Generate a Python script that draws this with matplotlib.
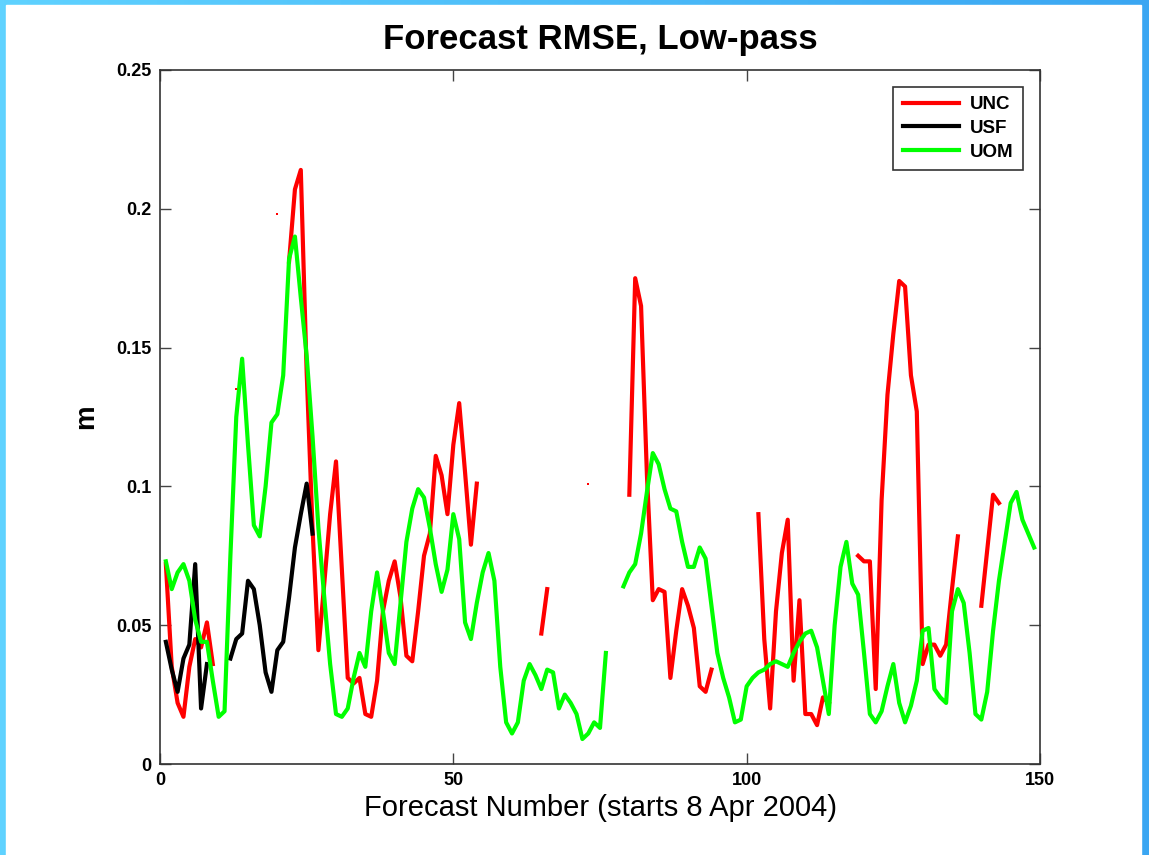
import numpy as np
import matplotlib.pyplot as plt
from matplotlib.patches import Rectangle

# Forecast numbers 1..150, gaps are NaN
N = 150
forecast = np.arange(1, N + 1)

# UNC runs (first forecast number, values)
unc_runs = [
    (1, [0.072, 0.035, 0.022, 0.017, 0.035, 0.045, 0.042, 0.051, 0.036]),
    (13, [0.135]),
    (20, [0.198]),
    (22, [0.181, 0.207, 0.214, 0.141, 0.085, 0.041, 0.065, 0.090, 0.109, 0.070,
          0.031, 0.029, 0.031, 0.018, 0.017, 0.030, 0.055, 0.066, 0.073, 0.060,
          0.039, 0.037, 0.055, 0.075, 0.083, 0.111, 0.104, 0.090, 0.115, 0.130,
          0.105, 0.079, 0.101]),
    (65, [0.047, 0.063]),
    (73, [0.101]),
    (80, [0.097, 0.175, 0.165, 0.104, 0.059, 0.063, 0.062, 0.031, 0.048, 0.063,
          0.057, 0.049, 0.028, 0.026, 0.034]),
    (102, [0.090, 0.045, 0.020, 0.055, 0.076, 0.088, 0.030, 0.059, 0.018, 0.018,
           0.014, 0.024, 0.022]),
    (119, [0.075, 0.073, 0.073, 0.027, 0.095, 0.133, 0.155, 0.174, 0.172, 0.140,
           0.127, 0.036, 0.043, 0.043, 0.039, 0.043, 0.063, 0.082]),
    (140, [0.057, 0.077, 0.097, 0.094]),
]

# USF runs
usf_runs = [
    (1, [0.044, 0.034, 0.026, 0.038, 0.043, 0.072, 0.020, 0.036]),
    (12, [0.038, 0.045, 0.047, 0.066, 0.063, 0.050, 0.033, 0.026, 0.041,
          0.044, 0.060, 0.078, 0.090, 0.101, 0.083]),
]

# UOM runs
uom_runs = [
    (1, [0.073, 0.063, 0.069, 0.072, 0.066, 0.052, 0.044, 0.044, 0.030, 0.017,
         0.019, 0.075, 0.125, 0.146, 0.115, 0.086, 0.082, 0.100, 0.123, 0.126,
         0.140, 0.182, 0.190, 0.168, 0.147, 0.118, 0.085, 0.060, 0.036, 0.018,
         0.017, 0.020, 0.031, 0.040, 0.035, 0.055, 0.069, 0.055, 0.040, 0.036,
         0.058, 0.080, 0.092, 0.099, 0.096, 0.085, 0.072, 0.062, 0.070, 0.090,
         0.081, 0.051, 0.045, 0.058, 0.069, 0.076, 0.066, 0.035, 0.015, 0.011,
         0.015, 0.030, 0.036, 0.032, 0.027, 0.034, 0.033, 0.020, 0.025, 0.022,
         0.018, 0.009, 0.011, 0.015, 0.013, 0.040]),
    (79, [0.064, 0.069, 0.072, 0.083, 0.098, 0.112, 0.108, 0.099, 0.092, 0.091,
          0.080, 0.071, 0.071, 0.078, 0.074, 0.057, 0.040, 0.031, 0.024, 0.015,
          0.016, 0.028, 0.031, 0.033, 0.034, 0.036, 0.037, 0.036, 0.035, 0.040,
          0.044, 0.047, 0.048, 0.042, 0.030, 0.018, 0.050, 0.071, 0.080, 0.065,
          0.061, 0.040, 0.018, 0.015, 0.019, 0.028, 0.036, 0.022, 0.015, 0.021,
          0.030, 0.048, 0.049, 0.027, 0.024, 0.022, 0.055, 0.063, 0.058, 0.040,
          0.018, 0.016, 0.026, 0.048, 0.066, 0.080, 0.094, 0.098, 0.088, 0.083,
          0.078]),
]

yticks = [0, 0.05, 0.1, 0.15, 0.2, 0.25]
ytick_labels = ['0', '0.05', '0.1', '0.15', '0.2', '0.25']
xticks = [0, 50, 100, 150]


def fill(runs):
    y = np.full(N, np.nan)
    for start, vals in runs:
        y[start - 1:start - 1 + len(vals)] = vals
    return y


unc = fill(unc_runs)
usf = fill(usf_runs)
uom = fill(uom_runs)

font = ['Liberation Sans', 'DejaVu Sans']

fig = plt.figure(figsize=(11.49, 8.55), dpi=100)

# blue frame behind the white page
bg = fig.add_axes([0, 0, 1, 1], zorder=-2)
grad = np.linspace(0, 1, 256).reshape(1, -1)
bg.imshow(grad, aspect='auto', extent=[0, 1, 0, 1],
          cmap=plt.matplotlib.colors.LinearSegmentedColormap.from_list(
              'frame', ['#5fd2ff', '#3aa6f2']))
bg.add_patch(Rectangle((6 / 1149, 0), (1141 - 6) / 1149, (855 - 5) / 855,
                       color='white', zorder=2))
bg.set_xlim(0, 1)
bg.set_ylim(0, 1)
bg.axis('off')

ax = fig.add_axes([160 / 1149, 1 - 764 / 855, 880 / 1149, 694 / 855])

ax.plot(forecast, unc, color='#ff0000', lw=3, label='UNC')
ax.plot(forecast, usf, color='black', lw=3, label='USF')
ax.plot(forecast, uom, color='#00ff00', lw=3, label='UOM')

# single-point runs show up only as small dots
lone = np.isfinite(unc) & ~np.isfinite(np.r_[np.nan, unc[:-1]]) & ~np.isfinite(np.r_[unc[1:], np.nan])
ax.plot(forecast[lone], unc[lone], 's', color='#ff0000', ms=1.5, mew=0)

ax.set_xlim(0, 150)
ax.set_ylim(0, 0.25)
ax.set_xticks(xticks)
ax.set_yticks(yticks)
ax.set_yticklabels(ytick_labels)
ax.tick_params(direction='in', length=8, width=1, top=True, right=True,
               color='#444444', pad=6)
for lab in ax.get_xticklabels() + ax.get_yticklabels():
    lab.set_family(font)
    lab.set_fontweight('bold')
    lab.set_fontsize(13)
for s in ax.spines.values():
    s.set_color('#333333')
    s.set_linewidth(1.2)

ax.set_title('Forecast RMSE, Low-pass', family=font, fontweight='bold',
             fontsize=25, pad=15)
ax.set_xlabel('Forecast Number (starts 8 Apr 2004)', family=font,
              fontsize=21, labelpad=3)
ax.set_ylabel('m', family=font, fontweight='bold', fontsize=20, labelpad=12)

leg = ax.legend(loc='upper right', fancybox=False, edgecolor='#333333',
                framealpha=1, handlelength=3.0, handletextpad=0.6,
                borderpad=0.5, borderaxespad=0.9, labelspacing=0.35,
                prop={'family': font, 'weight': 'bold', 'size': 13.5})
leg.get_frame().set_linewidth(1.2)

fig.savefig('out.png', dpi=100)
